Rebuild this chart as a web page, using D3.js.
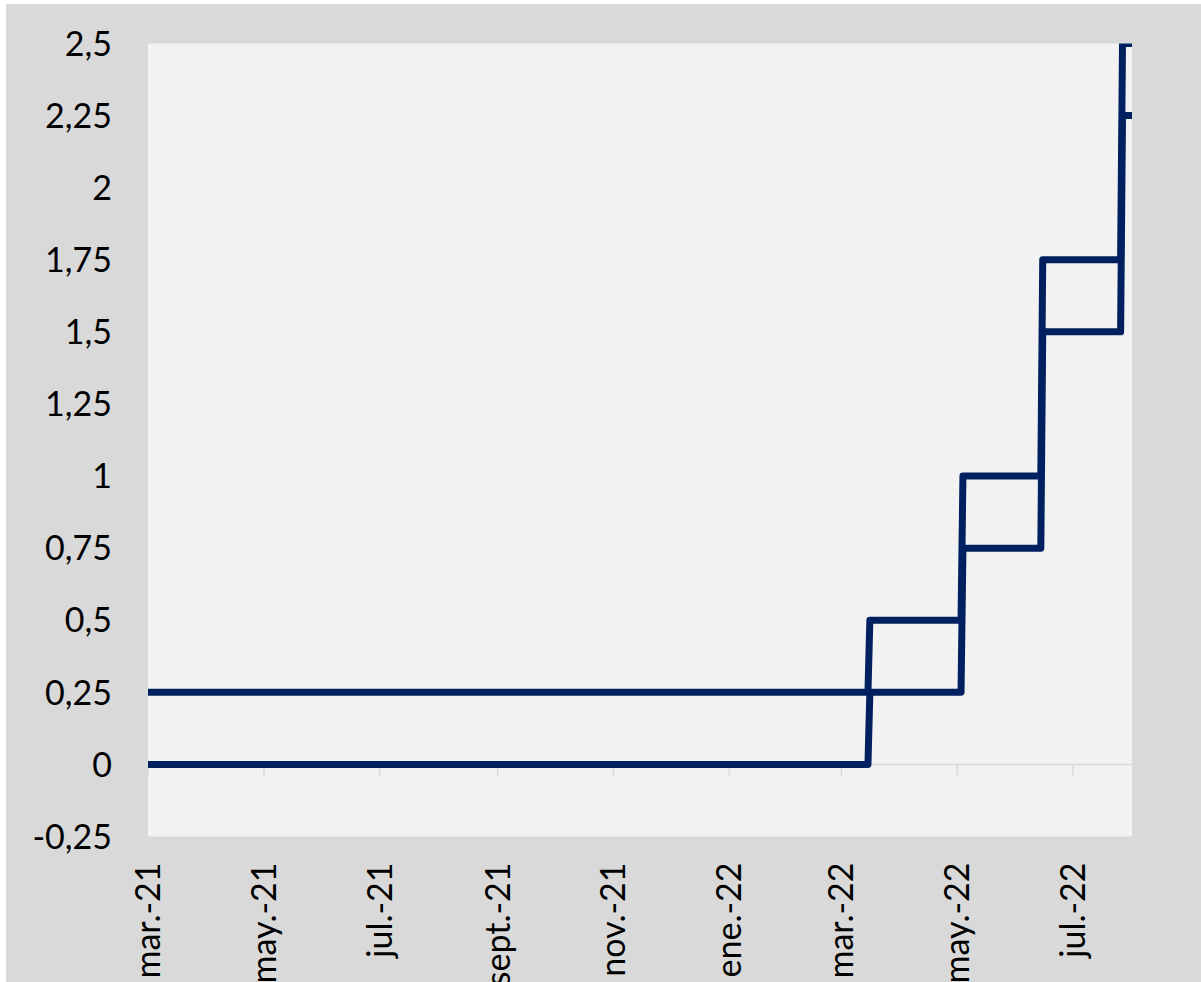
<!DOCTYPE html>
<html>
<head>
<meta charset="utf-8">
<script src="https://cdn.jsdelivr.net/npm/d3@7"></script>
<style>
  body { margin: 0; background: #ffffff; }
  text { font-family: Lato, "Open Sans", sans-serif; fill: #000; }
</style>
</head>
<body>
<div id="chart"></div>
<script>
// policy rate range, change dates (announcement) and bounds
var changeDates = ["2021-03-01", "2022-03-16", "2022-05-04", "2022-06-15", "2022-07-27"];
var lowerBound = [0, 0.25, 0.75, 1.5, 2.25];
var upperBound = [0.25, 0.5, 1.0, 1.75, 2.5];
var endDate = "2022-08-01";

var yTicks = [-0.25, 0, 0.25, 0.5, 0.75, 1, 1.25, 1.5, 1.75, 2, 2.25, 2.5];
var yTickLabels = ["-0,25", "0", "0,25", "0,5", "0,75", "1", "1,25", "1,5", "1,75", "2", "2,25", "2,5"];
var xTickDates = ["2021-03-01", "2021-05-01", "2021-07-01", "2021-09-01", "2021-11-01", "2022-01-01", "2022-03-01", "2022-05-01", "2022-07-01"];
var xTickLabels = ["mar.-21", "may.-21", "jul.-21", "sept.-21", "nov.-21", "ene.-22", "mar.-22", "may.-22", "jul.-22"];

var width = 1201, height = 982;
var margin = { top: 43.5, left: 148, right: 69, bottom: 145.5 };
var innerW = width - margin.left - margin.right,
    innerH = height - margin.top - margin.bottom;

var parse = d3.utcParse("%Y-%m-%d");

var svg = d3.select("#chart").append("svg")
    .attr("width", width)
    .attr("height", height);

// outer chart area
svg.append("rect")
    .attr("x", 6).attr("y", 4)
    .attr("width", width - 6).attr("height", height - 4)
    .attr("fill", "#d9d9d9");

var g = svg.append("g")
    .attr("transform", "translate(" + margin.left + "," + margin.top + ")");

g.append("rect")
    .attr("width", innerW).attr("height", innerH)
    .attr("fill", "#f2f2f2");

var x = d3.scaleUtc()
    .domain([parse(changeDates[0]), parse(endDate)])
    .range([0, innerW]);

var y = d3.scaleLinear()
    .domain([-0.25, 2.5])
    .range([innerH, 0]);

// zero axis line with ticks
g.append("line")
    .attr("x1", 0).attr("x2", innerW)
    .attr("y1", y(0)).attr("y2", y(0))
    .attr("stroke", "#d9d9d9")
    .attr("stroke-width", 1.5);

g.selectAll(".xtick")
    .data(xTickDates)
    .enter().append("line")
    .attr("class", "xtick")
    .attr("x1", function (d) { return x(parse(d)); })
    .attr("x2", function (d) { return x(parse(d)); })
    .attr("y1", y(0)).attr("y2", y(0) + 11)
    .attr("stroke", "#d9d9d9")
    .attr("stroke-width", 1.5);

// y labels
g.selectAll(".ylab")
    .data(yTicks)
    .enter().append("text")
    .attr("class", "ylab")
    .attr("x", -36)
    .attr("y", function (d) { return y(d); })
    .attr("dy", "0.36em")
    .attr("text-anchor", "end")
    .style("font-size", "34px")
    .text(function (d, i) { return yTickLabels[i]; });

// x labels, rotated
g.selectAll(".xlab")
    .data(xTickDates)
    .enter().append("text")
    .attr("class", "xlab")
    .attr("transform", function (d) {
        return "translate(" + (x(parse(d)) + 12) + "," + (innerH + 26) + ")rotate(-90)";
    })
    .attr("text-anchor", "end")
    .style("font-size", "34px")
    .text(function (d, i) { return xTickLabels[i]; });

// daily series: hold each value until the day before the next change
function seriesPoints(values) {
    var pts = [];
    values.forEach(function (v, i) {
        var start = parse(changeDates[i]);
        var stop = i + 1 < changeDates.length ? d3.utcDay.offset(parse(changeDates[i + 1]), -1) : parse(endDate);
        pts.push([start, v]);
        pts.push([stop, v]);
    });
    return pts;
}

svg.append("clipPath").attr("id", "plotclip")
    .append("rect").attr("width", innerW).attr("height", innerH);

var line = d3.line()
    .x(function (d) { return x(d[0]); })
    .y(function (d) { return y(d[1]); });

var lines = g.append("g").attr("clip-path", "url(#plotclip)");

[lowerBound, upperBound].forEach(function (s) {
    lines.append("path")
        .datum(seriesPoints(s))
        .attr("d", line)
        .attr("fill", "none")
        .attr("stroke", "#002060")
        .attr("stroke-width", 7)
        .attr("stroke-linejoin", "round")
        .attr("stroke-linecap", "butt");
});
</script>
</body>
</html>
